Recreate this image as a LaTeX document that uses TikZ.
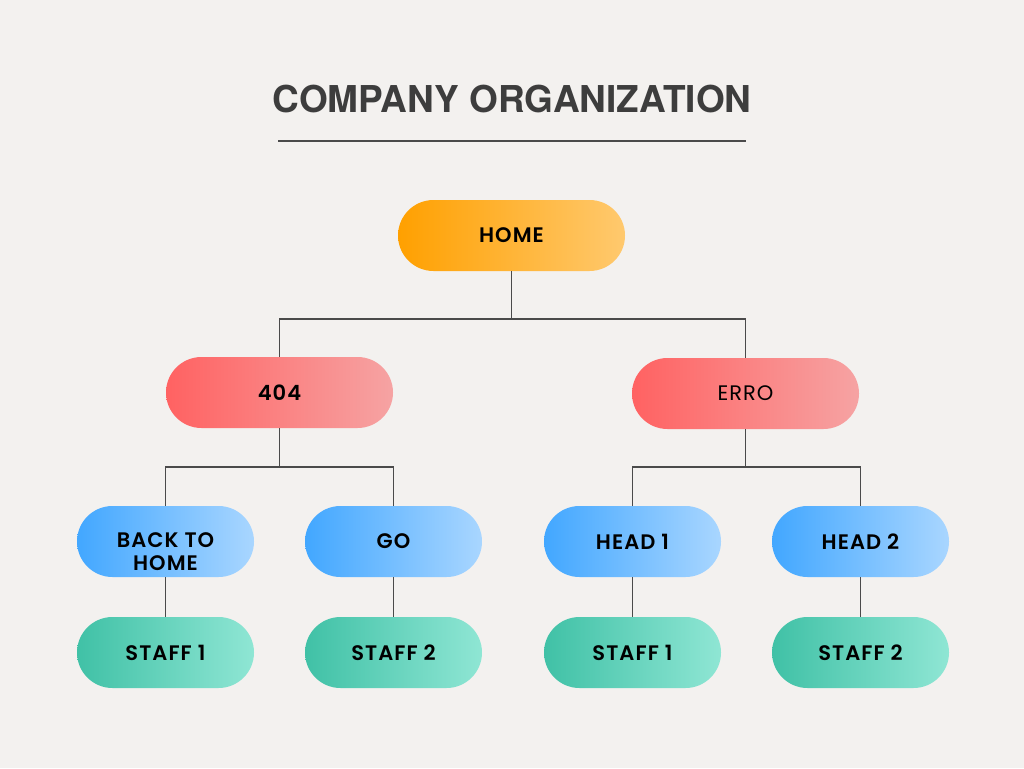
\documentclass[tikz,border=0pt]{standalone}
\usepackage{fontspec}
\setmainfont{Poppins}
\newfontfamily\nodefont{Poppins SemiBold}[LetterSpace=5]
\newfontfamily\nodelight{Poppins}[LetterSpace=5]
\newfontfamily\titlefont{TeX Gyre Heros}
\definecolor{bg}{HTML}{F3F1EF}
\definecolor{titlec}{HTML}{3D3D3D}
\definecolor{linec}{HTML}{4A4A4A}
\definecolor{orA}{HTML}{FFA000}
\definecolor{orB}{HTML}{FFC96E}
\definecolor{rdA}{HTML}{FF6262}
\definecolor{rdB}{HTML}{F6A3A3}
\definecolor{blA}{HTML}{42A7FF}
\definecolor{blB}{HTML}{A9D6FF}
\definecolor{gnA}{HTML}{40C1A6}
\definecolor{gnB}{HTML}{8FE6D4}
\tikzset{
  pill/.style={rounded corners=35.5pt, minimum height=71pt, inner sep=0pt, align=center, text=black, font=\nodefont\fontsize{21}{23}\selectfont},
  bigpill/.style={pill, minimum width=227pt},
  smallpill/.style={pill, minimum width=177pt},
  orange/.style={left color=orA, right color=orB},
  red/.style={left color=rdA, right color=rdB},
  blue/.style={left color=blA, right color=blB},
  green/.style={left color=gnA, right color=gnB},
  conn/.style={draw=linec, line width=1.2pt},
}
\begin{document}
\begin{tikzpicture}[x=1pt,y=-1pt]
\fill[bg] (0,0) rectangle (1024,768);
\useasboundingbox (0,0) rectangle (1024,768);
\node[font=\titlefont\fontsize{37}{40}\selectfont\bfseries, text=titlec] (title) at (512,99) {COMPANY ORGANIZATION};
\coordinate (rl) at (278,141);
\coordinate (rr) at (746,141);
\draw[conn] (rl) -- (rr);

\node[bigpill, orange] (home) at (511.5,235.5) {HOME};
\node[bigpill, red] (n404) at (279.5,392.5) {404};
\node[bigpill, red, font=\nodelight\fontsize{21}{23}\selectfont] (erro) at (745.5,393.5) {ERRO};

\node[smallpill, blue] (back) at (165.5,541.5) {\raisebox{-18.5pt}[0pt][0pt]{\setlength{\tabcolsep}{0pt}\begin{tabular}{c}BACK TO\\HOME\end{tabular}}};
\node[smallpill, blue] (go) at (393.5,541.5) {GO};
\node[smallpill, blue] (h1) at (632.5,541.5) {HEAD 1};
\node[smallpill, blue] (h2) at (860.5,541.5) {HEAD 2};

\node[smallpill, green] (s1) at (165.5,652.5) {STAFF 1};
\node[smallpill, green] (s2) at (393.5,652.5) {STAFF 2};
\node[smallpill, green] (s3) at (632.5,652.5) {STAFF 1};
\node[smallpill, green] (s4) at (860.5,652.5) {STAFF 2};

\draw[conn] (home.south) -- (home.south |- 0,319) -| (n404.north);
\draw[conn] (home.south |- 0,319) -| (erro.north);
\draw[conn] (n404.south) -- (n404.south |- 0,467) -| (back.north);
\draw[conn] (n404.south |- 0,467) -| (go.north);
\draw[conn] (erro.south) -- (erro.south |- 0,467) -| (h1.north);
\draw[conn] (erro.south |- 0,467) -| (h2.north);
\draw[conn] (back) -- (s1);
\draw[conn] (go) -- (s2);
\draw[conn] (h1) -- (s3);
\draw[conn] (h2) -- (s4);
\end{tikzpicture}
\end{document}
